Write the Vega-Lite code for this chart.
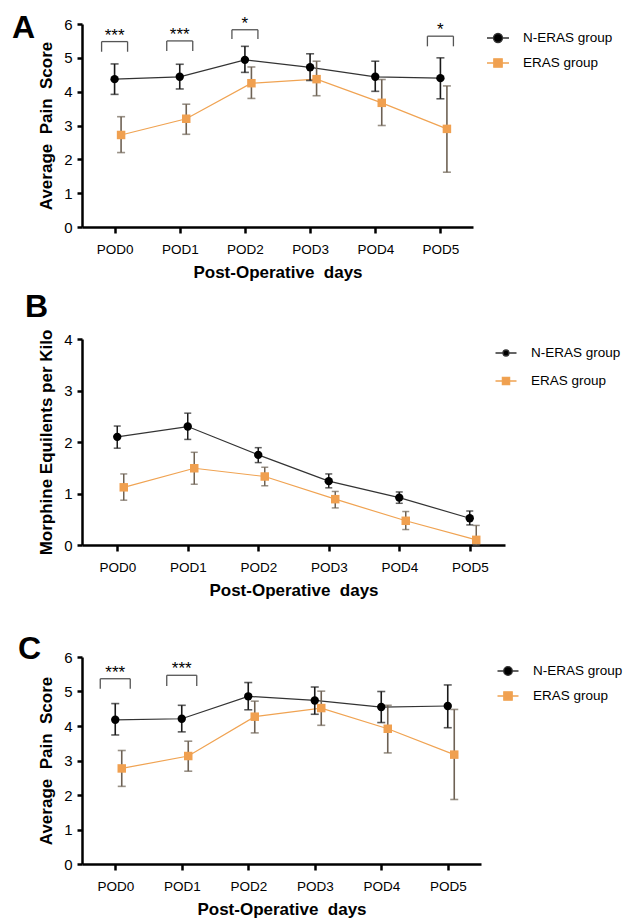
{
  "$schema": "https://vega.github.io/schema/vega-lite/v6.json",
  "background": "white",
  "padding": {"top": 11, "left": 12, "right": 0, "bottom": 0},
  "datasets": {
    "A": [
      {"day": "POD0", "group": "N-ERAS group", "mean": 4.37, "lo": 3.92, "hi": 4.82},
      {"day": "POD1", "group": "N-ERAS group", "mean": 4.44, "lo": 4.08, "hi": 4.81},
      {"day": "POD2", "group": "N-ERAS group", "mean": 4.94, "lo": 4.57, "hi": 5.34},
      {"day": "POD3", "group": "N-ERAS group", "mean": 4.72, "lo": 4.33, "hi": 5.12},
      {"day": "POD4", "group": "N-ERAS group", "mean": 4.44, "lo": 4.01, "hi": 4.90},
      {"day": "POD5", "group": "N-ERAS group", "mean": 4.40, "lo": 3.79, "hi": 5.00},
      {"day": "POD0", "group": "ERAS group", "mean": 2.72, "lo": 2.20, "hi": 3.26},
      {"day": "POD1", "group": "ERAS group", "mean": 3.20, "lo": 2.74, "hi": 3.63},
      {"day": "POD2", "group": "ERAS group", "mean": 4.25, "lo": 3.80, "hi": 4.73},
      {"day": "POD3", "group": "ERAS group", "mean": 4.37, "lo": 3.88, "hi": 4.90},
      {"day": "POD4", "group": "ERAS group", "mean": 3.67, "lo": 3.00, "hi": 4.36},
      {"day": "POD5", "group": "ERAS group", "mean": 2.90, "lo": 1.62, "hi": 4.17}
    ],
    "sigA": [
      {"day": "POD0", "top": 5.48, "leg": 5.18, "label": "***"},
      {"day": "POD1", "top": 5.50, "leg": 5.20, "label": "***"},
      {"day": "POD2", "top": 5.83, "leg": 5.56, "label": "*"},
      {"day": "POD5", "top": 5.64, "leg": 5.34, "label": "*"}
    ],
    "B": [
      {"day": "POD0", "group": "N-ERAS group", "mean": 2.10, "lo": 1.88, "hi": 2.31},
      {"day": "POD1", "group": "N-ERAS group", "mean": 2.30, "lo": 2.05, "hi": 2.56},
      {"day": "POD2", "group": "N-ERAS group", "mean": 1.75, "lo": 1.60, "hi": 1.89},
      {"day": "POD3", "group": "N-ERAS group", "mean": 1.24, "lo": 1.11, "hi": 1.38},
      {"day": "POD4", "group": "N-ERAS group", "mean": 0.92, "lo": 0.81, "hi": 1.03},
      {"day": "POD5", "group": "N-ERAS group", "mean": 0.52, "lo": 0.39, "hi": 0.66},
      {"day": "POD0", "group": "ERAS group", "mean": 1.12, "lo": 0.87, "hi": 1.38},
      {"day": "POD1", "group": "ERAS group", "mean": 1.49, "lo": 1.18, "hi": 1.80},
      {"day": "POD2", "group": "ERAS group", "mean": 1.33, "lo": 1.15, "hi": 1.51},
      {"day": "POD3", "group": "ERAS group", "mean": 0.89, "lo": 0.72, "hi": 1.04},
      {"day": "POD4", "group": "ERAS group", "mean": 0.47, "lo": 0.30, "hi": 0.65},
      {"day": "POD5", "group": "ERAS group", "mean": 0.10, "lo": 0.00, "hi": 0.38}
    ],
    "C": [
      {"day": "POD0", "group": "N-ERAS group", "mean": 4.18, "lo": 3.74, "hi": 4.65},
      {"day": "POD1", "group": "N-ERAS group", "mean": 4.21, "lo": 3.83, "hi": 4.60},
      {"day": "POD2", "group": "N-ERAS group", "mean": 4.86, "lo": 4.47, "hi": 5.26},
      {"day": "POD3", "group": "N-ERAS group", "mean": 4.74, "lo": 4.34, "hi": 5.13},
      {"day": "POD4", "group": "N-ERAS group", "mean": 4.55, "lo": 4.10, "hi": 5.00},
      {"day": "POD5", "group": "N-ERAS group", "mean": 4.58, "lo": 3.95, "hi": 5.19},
      {"day": "POD0", "group": "ERAS group", "mean": 2.77, "lo": 2.25, "hi": 3.29},
      {"day": "POD1", "group": "ERAS group", "mean": 3.13, "lo": 2.69, "hi": 3.56},
      {"day": "POD2", "group": "ERAS group", "mean": 4.27, "lo": 3.80, "hi": 4.72},
      {"day": "POD3", "group": "ERAS group", "mean": 4.52, "lo": 4.02, "hi": 5.01},
      {"day": "POD4", "group": "ERAS group", "mean": 3.92, "lo": 3.22, "hi": 4.60},
      {"day": "POD5", "group": "ERAS group", "mean": 3.17, "lo": 1.87, "hi": 4.48}
    ],
    "sigC": [
      {"day": "POD0", "top": 5.37, "leg": 5.08, "label": "***"},
      {"day": "POD1", "top": 5.47, "leg": 5.16, "label": "***"}
    ]
  },
  "config": {
    "font": "Liberation Sans",
    "view": {"stroke": null},
    "axis": {"grid": false, "domainColor": "black", "domainWidth": 2.5, "tickColor": "black", "tickWidth": 2.5, "labelColor": "black", "titleColor": "black", "labelFont": "Liberation Sans", "titleFont": "Liberation Sans", "titleFontWeight": "bold", "titleFontSize": 17},
    "axisX": {"labelAngle": 0, "labelFontSize": 13.5, "tickSize": 6, "labelPadding": 9, "titlePadding": 9},
    "axisY": {"labelFontSize": 15, "tickSize": 5, "labelPadding": 5, "titlePadding": 8, "format": "d"},
    "legend": {"labelFont": "Liberation Sans", "labelColor": "black", "labelFontSize": 13.5, "symbolSize": 400, "labelOffset": 14, "title": null}
  },
  "resolve": {"scale": {"x": "independent", "y": "independent", "color": "independent"}, "legend": {"color": "independent"}},
  "spacing": 10,
  "vconcat": [
    {
      "width": 391, "height": 203,
      "title": {"text": "A", "anchor": "start", "frame": "group", "fontSize": 32, "fontWeight": "bold", "baseline": "alphabetic", "offset": -55, "dx": -70, "color": "black"},
      "encoding": {"x": {"field": "day", "type": "nominal", "title": "Post-Operative \u00a0days", "scale": {"type": "point", "padding": 0.5, "domain": ["POD0", "POD1", "POD2", "POD3", "POD4", "POD5"]}}},
      "layer": [
        {"data": {"name": "A"}, "mark": {"type": "line", "strokeWidth": 1.2},
         "encoding": {
           "y": {"field": "mean", "type": "quantitative", "title": "Average \u00a0Pain \u00a0Score", "scale": {"domain": [0, 6], "nice": false}, "axis": {"values": [0, 1, 2, 3, 4, 5, 6]}},
           "xOffset": {"field": "group", "scale": {"type": "point", "domain": ["N-ERAS group", "ERAS group"], "range": [0, 6.5], "padding": 0}},
           "color": {"field": "group", "type": "nominal", "scale": {"domain": ["N-ERAS group", "ERAS group"], "range": ["#333333", "#F0A352"]},
             "legend": {"orient": "right", "offset": 11, "padding": 3, "rowPadding": 6,
               "encode": {"symbols": {"update": {
                 "shape": {"signal": "datum.value === 'ERAS group' ? 'M-1.1,0H-0.42M0.42,0H1.1M-0.42,-0.42H0.42V0.42H-0.42Z' : 'M-1.1,0H-0.45M0.45,0H1.1M-0.45,0A0.45,0.45,0,1,1,0.45,0A0.45,0.45,0,1,1,-0.45,0Z'"},
                 "fill": {"signal": "datum.value === 'ERAS group' ? '#F0A050' : '#000000'"},
                 "stroke": {"signal": "datum.value === 'ERAS group' ? '#F0A352' : '#222222'"},
                 "strokeWidth": {"value": 1.3}, "opacity": {"value": 1}}}}}}}},
        {"data": {"name": "A"}, "mark": {"type": "rule", "strokeWidth": 1.6},
         "encoding": {
           "y": {"field": "lo", "type": "quantitative", "title": "Average \u00a0Pain \u00a0Score", "axis": {"values": [0, 1, 2, 3, 4, 5, 6]}}, "y2": {"field": "hi"},
           "xOffset": {"field": "group", "scale": {"type": "point", "domain": ["N-ERAS group", "ERAS group"], "range": [0, 6.5], "padding": 0}},
           "color": {"condition": {"test": "datum.group === 'ERAS group'", "value": "#6E6254"}, "value": "#1a1a1a"}}},
        {"data": {"name": "A"}, "mark": {"type": "tick", "size": 8, "thickness": 1.6},
         "encoding": {
           "y": {"field": "lo", "type": "quantitative", "title": "Average \u00a0Pain \u00a0Score", "axis": {"values": [0, 1, 2, 3, 4, 5, 6]}},
           "xOffset": {"field": "group", "scale": {"type": "point", "domain": ["N-ERAS group", "ERAS group"], "range": [0, 6.5], "padding": 0}},
           "color": {"condition": {"test": "datum.group === 'ERAS group'", "value": "#6E6254"}, "value": "#1a1a1a"}}},
        {"data": {"name": "A"}, "mark": {"type": "tick", "size": 8, "thickness": 1.6},
         "encoding": {
           "y": {"field": "hi", "type": "quantitative", "title": "Average \u00a0Pain \u00a0Score", "axis": {"values": [0, 1, 2, 3, 4, 5, 6]}},
           "xOffset": {"field": "group", "scale": {"type": "point", "domain": ["N-ERAS group", "ERAS group"], "range": [0, 6.5], "padding": 0}},
           "color": {"condition": {"test": "datum.group === 'ERAS group'", "value": "#6E6254"}, "value": "#1a1a1a"}}},
        {"data": {"name": "A"}, "mark": {"type": "point", "filled": true, "opacity": 1},
         "encoding": {
           "y": {"field": "mean", "type": "quantitative", "title": "Average \u00a0Pain \u00a0Score", "axis": {"values": [0, 1, 2, 3, 4, 5, 6]}},
           "xOffset": {"field": "group", "scale": {"type": "point", "domain": ["N-ERAS group", "ERAS group"], "range": [0, 6.5], "padding": 0}},
           "shape": {"field": "group", "type": "nominal", "scale": {"domain": ["N-ERAS group", "ERAS group"], "range": ["circle", "square"]}, "legend": null},
           "size": {"field": "group", "type": "nominal", "scale": {"domain": ["N-ERAS group", "ERAS group"], "range": [70, 72]}, "legend": null},
           "color": {"condition": {"test": "datum.group === 'ERAS group'", "value": "#F0A050"}, "value": "#000000"}}},
        {"data": {"name": "sigA"}, "mark": {"type": "rule", "strokeWidth": 1.3, "color": "#555555", "xOffset": -13, "x2Offset": 13},
         "encoding": {"x2": {"field": "day"}, "y": {"field": "top", "type": "quantitative", "title": "Average \u00a0Pain \u00a0Score", "axis": {"values": [0, 1, 2, 3, 4, 5, 6]}}}},
        {"data": {"name": "sigA"}, "mark": {"type": "rule", "strokeWidth": 1.3, "color": "#555555", "xOffset": -13},
         "encoding": {"y": {"field": "leg", "type": "quantitative", "title": "Average \u00a0Pain \u00a0Score", "axis": {"values": [0, 1, 2, 3, 4, 5, 6]}}, "y2": {"field": "top"}}},
        {"data": {"name": "sigA"}, "mark": {"type": "rule", "strokeWidth": 1.3, "color": "#555555", "xOffset": 13},
         "encoding": {"y": {"field": "leg", "type": "quantitative", "title": "Average \u00a0Pain \u00a0Score", "axis": {"values": [0, 1, 2, 3, 4, 5, 6]}}, "y2": {"field": "top"}}},
        {"data": {"name": "sigA"}, "mark": {"type": "text", "fontSize": 17, "baseline": "alphabetic", "dy": -1, "color": "black"},
         "encoding": {"y": {"field": "top", "type": "quantitative", "title": "Average \u00a0Pain \u00a0Score", "axis": {"values": [0, 1, 2, 3, 4, 5, 6]}}, "text": {"field": "label"}}}
      ]
    },
    {
      "width": 423, "height": 206,
      "title": {"text": "B", "anchor": "start", "frame": "group", "fontSize": 32, "fontWeight": "bold", "baseline": "alphabetic", "offset": -20, "dx": -57, "color": "black"},
      "encoding": {"x": {"field": "day", "type": "nominal", "title": "Post-Operative \u00a0days", "scale": {"type": "point", "padding": 0.5, "domain": ["POD0", "POD1", "POD2", "POD3", "POD4", "POD5"]}}},
      "layer": [
        {"data": {"name": "B"}, "mark": {"type": "line", "strokeWidth": 1.2},
         "encoding": {
           "y": {"field": "mean", "type": "quantitative", "title": "Morphine Equilents per Kilo", "scale": {"domain": [0, 4], "nice": false}, "axis": {"values": [0, 1, 2, 3, 4]}},
           "xOffset": {"field": "group", "scale": {"type": "point", "domain": ["N-ERAS group", "ERAS group"], "range": [0, 7], "padding": 0}},
           "color": {"field": "group", "type": "nominal", "scale": {"domain": ["N-ERAS group", "ERAS group"], "range": ["#333333", "#F0A352"]},
             "legend": {"orient": "right", "offset": -13, "padding": 3, "rowPadding": 10,
               "encode": {"symbols": {"update": {
                 "shape": {"signal": "datum.value === 'ERAS group' ? 'M-1.05,0H-0.36M0.36,0H1.05M-0.36,-0.36H0.36V0.36H-0.36Z' : 'M-1.05,0H-0.3M0.3,0H1.05M-0.3,0A0.3,0.3,0,1,1,0.3,0A0.3,0.3,0,1,1,-0.3,0Z'"},
                 "fill": {"signal": "datum.value === 'ERAS group' ? '#F0A050' : '#000000'"},
                 "stroke": {"signal": "datum.value === 'ERAS group' ? '#F0A352' : '#222222'"},
                 "strokeWidth": {"value": 1.3}, "opacity": {"value": 1}}}}}}}},
        {"data": {"name": "B"}, "mark": {"type": "rule", "strokeWidth": 1.5},
         "encoding": {
           "y": {"field": "lo", "type": "quantitative", "title": "Morphine Equilents per Kilo", "axis": {"values": [0, 1, 2, 3, 4]}}, "y2": {"field": "hi"},
           "xOffset": {"field": "group", "scale": {"type": "point", "domain": ["N-ERAS group", "ERAS group"], "range": [0, 7], "padding": 0}},
           "color": {"condition": {"test": "datum.group === 'ERAS group'", "value": "#6E6254"}, "value": "#1a1a1a"}}},
        {"data": {"name": "B"}, "mark": {"type": "tick", "size": 7, "thickness": 1.5},
         "encoding": {
           "y": {"field": "lo", "type": "quantitative", "title": "Morphine Equilents per Kilo", "axis": {"values": [0, 1, 2, 3, 4]}},
           "xOffset": {"field": "group", "scale": {"type": "point", "domain": ["N-ERAS group", "ERAS group"], "range": [0, 7], "padding": 0}},
           "color": {"condition": {"test": "datum.group === 'ERAS group'", "value": "#6E6254"}, "value": "#1a1a1a"}}},
        {"data": {"name": "B"}, "mark": {"type": "tick", "size": 7, "thickness": 1.5},
         "encoding": {
           "y": {"field": "hi", "type": "quantitative", "title": "Morphine Equilents per Kilo", "axis": {"values": [0, 1, 2, 3, 4]}},
           "xOffset": {"field": "group", "scale": {"type": "point", "domain": ["N-ERAS group", "ERAS group"], "range": [0, 7], "padding": 0}},
           "color": {"condition": {"test": "datum.group === 'ERAS group'", "value": "#6E6254"}, "value": "#1a1a1a"}}},
        {"data": {"name": "B"}, "mark": {"type": "point", "filled": true, "opacity": 1},
         "encoding": {
           "y": {"field": "mean", "type": "quantitative", "title": "Morphine Equilents per Kilo", "axis": {"values": [0, 1, 2, 3, 4]}},
           "xOffset": {"field": "group", "scale": {"type": "point", "domain": ["N-ERAS group", "ERAS group"], "range": [0, 7], "padding": 0}},
           "shape": {"field": "group", "type": "nominal", "scale": {"domain": ["N-ERAS group", "ERAS group"], "range": ["circle", "square"]}, "legend": null},
           "size": {"field": "group", "type": "nominal", "scale": {"domain": ["N-ERAS group", "ERAS group"], "range": [32, 50]}, "legend": null},
           "color": {"condition": {"test": "datum.group === 'ERAS group'", "value": "#F0A050"}, "value": "#000000"}}}
      ]
    },
    {
      "width": 399, "height": 207,
      "title": {"text": ["", "C"], "lineHeight": 24, "anchor": "start", "frame": "group", "fontSize": 32, "fontWeight": "bold", "baseline": "alphabetic", "offset": -41, "dx": -64, "color": "black"},
      "encoding": {"x": {"field": "day", "type": "nominal", "title": "Post-Operative \u00a0days", "scale": {"type": "point", "padding": 0.5, "domain": ["POD0", "POD1", "POD2", "POD3", "POD4", "POD5"]}}},
      "layer": [
        {"data": {"name": "C"}, "mark": {"type": "line", "strokeWidth": 1.2},
         "encoding": {
           "y": {"field": "mean", "type": "quantitative", "title": "Average \u00a0Pain \u00a0Score", "scale": {"domain": [0, 6], "nice": false}, "axis": {"values": [0, 1, 2, 3, 4, 5, 6]}},
           "xOffset": {"field": "group", "scale": {"type": "point", "domain": ["N-ERAS group", "ERAS group"], "range": [0, 7], "padding": 0}},
           "color": {"field": "group", "type": "nominal", "scale": {"domain": ["N-ERAS group", "ERAS group"], "range": ["#333333", "#F0A352"]},
             "legend": {"orient": "right", "offset": 13, "padding": 3, "rowPadding": 7,
               "encode": {"symbols": {"update": {
                 "shape": {"signal": "datum.value === 'ERAS group' ? 'M-1.05,0H-0.42M0.42,0H1.05M-0.42,-0.42H0.42V0.42H-0.42Z' : 'M-1.05,0H-0.43M0.43,0H1.05M-0.43,0A0.43,0.43,0,1,1,0.43,0A0.43,0.43,0,1,1,-0.43,0Z'"},
                 "fill": {"signal": "datum.value === 'ERAS group' ? '#F0A050' : '#000000'"},
                 "stroke": {"signal": "datum.value === 'ERAS group' ? '#F0A352' : '#222222'"},
                 "strokeWidth": {"value": 1.3}, "opacity": {"value": 1}}}}}}}},
        {"data": {"name": "C"}, "mark": {"type": "rule", "strokeWidth": 1.6},
         "encoding": {
           "y": {"field": "lo", "type": "quantitative", "title": "Average \u00a0Pain \u00a0Score", "axis": {"values": [0, 1, 2, 3, 4, 5, 6]}}, "y2": {"field": "hi"},
           "xOffset": {"field": "group", "scale": {"type": "point", "domain": ["N-ERAS group", "ERAS group"], "range": [0, 7], "padding": 0}},
           "color": {"condition": {"test": "datum.group === 'ERAS group'", "value": "#6E6254"}, "value": "#1a1a1a"}}},
        {"data": {"name": "C"}, "mark": {"type": "tick", "size": 8, "thickness": 1.6},
         "encoding": {
           "y": {"field": "lo", "type": "quantitative", "title": "Average \u00a0Pain \u00a0Score", "axis": {"values": [0, 1, 2, 3, 4, 5, 6]}},
           "xOffset": {"field": "group", "scale": {"type": "point", "domain": ["N-ERAS group", "ERAS group"], "range": [0, 7], "padding": 0}},
           "color": {"condition": {"test": "datum.group === 'ERAS group'", "value": "#6E6254"}, "value": "#1a1a1a"}}},
        {"data": {"name": "C"}, "mark": {"type": "tick", "size": 8, "thickness": 1.6},
         "encoding": {
           "y": {"field": "hi", "type": "quantitative", "title": "Average \u00a0Pain \u00a0Score", "axis": {"values": [0, 1, 2, 3, 4, 5, 6]}},
           "xOffset": {"field": "group", "scale": {"type": "point", "domain": ["N-ERAS group", "ERAS group"], "range": [0, 7], "padding": 0}},
           "color": {"condition": {"test": "datum.group === 'ERAS group'", "value": "#6E6254"}, "value": "#1a1a1a"}}},
        {"data": {"name": "C"}, "mark": {"type": "point", "filled": true, "opacity": 1},
         "encoding": {
           "y": {"field": "mean", "type": "quantitative", "title": "Average \u00a0Pain \u00a0Score", "axis": {"values": [0, 1, 2, 3, 4, 5, 6]}},
           "xOffset": {"field": "group", "scale": {"type": "point", "domain": ["N-ERAS group", "ERAS group"], "range": [0, 7], "padding": 0}},
           "shape": {"field": "group", "type": "nominal", "scale": {"domain": ["N-ERAS group", "ERAS group"], "range": ["circle", "square"]}, "legend": null},
           "size": {"field": "group", "type": "nominal", "scale": {"domain": ["N-ERAS group", "ERAS group"], "range": [70, 72]}, "legend": null},
           "color": {"condition": {"test": "datum.group === 'ERAS group'", "value": "#F0A050"}, "value": "#000000"}}},
        {"data": {"name": "sigC"}, "mark": {"type": "rule", "strokeWidth": 1.3, "color": "#555555", "xOffset": -15, "x2Offset": 15},
         "encoding": {"x2": {"field": "day"}, "y": {"field": "top", "type": "quantitative", "title": "Average \u00a0Pain \u00a0Score", "axis": {"values": [0, 1, 2, 3, 4, 5, 6]}}}},
        {"data": {"name": "sigC"}, "mark": {"type": "rule", "strokeWidth": 1.3, "color": "#555555", "xOffset": -15},
         "encoding": {"y": {"field": "leg", "type": "quantitative", "title": "Average \u00a0Pain \u00a0Score", "axis": {"values": [0, 1, 2, 3, 4, 5, 6]}}, "y2": {"field": "top"}}},
        {"data": {"name": "sigC"}, "mark": {"type": "rule", "strokeWidth": 1.3, "color": "#555555", "xOffset": 15},
         "encoding": {"y": {"field": "leg", "type": "quantitative", "title": "Average \u00a0Pain \u00a0Score", "axis": {"values": [0, 1, 2, 3, 4, 5, 6]}}, "y2": {"field": "top"}}},
        {"data": {"name": "sigC"}, "mark": {"type": "text", "fontSize": 17, "baseline": "alphabetic", "dy": -1, "color": "black"},
         "encoding": {"y": {"field": "top", "type": "quantitative", "title": "Average \u00a0Pain \u00a0Score", "axis": {"values": [0, 1, 2, 3, 4, 5, 6]}}, "text": {"field": "label"}}}
      ]
    }
  ]
}
